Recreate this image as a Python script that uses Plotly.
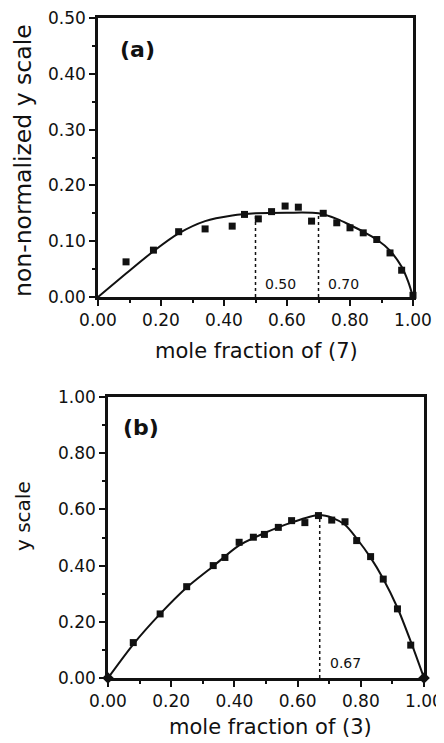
import plotly.graph_objects as go

# ---------------- data: panel (a) ----------------
a_x = [0.089, 0.176, 0.256, 0.340, 0.426, 0.465, 0.509, 0.551, 0.594, 0.636,
       0.678, 0.715, 0.758, 0.800, 0.842, 0.885, 0.927, 0.964, 1.000]
a_y = [0.063, 0.084, 0.117, 0.122, 0.127, 0.148, 0.140, 0.153, 0.163, 0.161,
       0.136, 0.150, 0.133, 0.124, 0.115, 0.103, 0.079, 0.048, 0.003]
a_fit_x = [0.0, 0.089, 0.176, 0.256, 0.340, 0.426, 0.50, 0.60, 0.70, 0.758,
           0.800, 0.842, 0.885, 0.927, 0.964, 0.985, 1.0]
a_fit_y = [0.0, 0.042, 0.082, 0.114, 0.136, 0.146, 0.150, 0.151, 0.150, 0.140,
           0.129, 0.117, 0.103, 0.083, 0.054, 0.027, 0.0]
a_marks = [0.50, 0.70]
a_marks_h = [0.150, 0.150]
a_mark_labels = ["0.50", "0.70"]

# ---------------- data: panel (b) ----------------
b_x = [0.080, 0.165, 0.249, 0.333, 0.370, 0.415, 0.460, 0.495, 0.539, 0.581,
       0.623, 0.666, 0.708, 0.750, 0.787, 0.831, 0.871, 0.916, 0.958]
b_y = [0.126, 0.228, 0.325, 0.400, 0.429, 0.483, 0.501, 0.511, 0.536, 0.560,
       0.553, 0.578, 0.562, 0.556, 0.489, 0.432, 0.352, 0.246, 0.117]
b_end_x = [0.0, 1.0]
b_end_y = [0.0, 0.0]
b_fit_x = [0.0, 0.080, 0.165, 0.249, 0.333, 0.415, 0.50, 0.58, 0.667, 0.71,
           0.75, 0.79, 0.83, 0.87, 0.916, 0.958, 1.0]
b_fit_y = [0.0, 0.120, 0.228, 0.322, 0.398, 0.472, 0.518, 0.553, 0.580, 0.570,
           0.545, 0.492, 0.430, 0.355, 0.250, 0.130, 0.0]
b_marks = [0.67]
b_marks_h = [0.580]
b_mark_labels = ["0.67"]

# page body adds an 8px margin; figure is sized to fill the rest of the window
OFF = 8
W, H = 444 - OFF, 743 - OFF
FONT = "DejaVu Sans"
BLACK = "#111111"


def px(x):
    return (x - OFF) / W


def py(y):
    return 1 - (y - OFF) / H


fig = go.Figure()

# panel (a)
fig.add_trace(go.Scatter(x=a_fit_x, y=a_fit_y, mode="lines", line=dict(color=BLACK, width=2, shape="spline", smoothing=0.8),
                         xaxis="x", yaxis="y", hoverinfo="skip", cliponaxis=False))
fig.add_trace(go.Scatter(x=a_x, y=a_y, mode="markers", marker=dict(symbol="square", size=7, color=BLACK),
                         xaxis="x", yaxis="y", cliponaxis=False))
for mx, mh in zip(a_marks, a_marks_h):
    fig.add_trace(go.Scatter(x=[mx, mx], y=[0, mh], mode="lines", line=dict(color=BLACK, width=1.5, dash="dot"),
                             xaxis="x", yaxis="y", hoverinfo="skip"))

# panel (b)
fig.add_trace(go.Scatter(x=b_fit_x, y=b_fit_y, mode="lines", line=dict(color=BLACK, width=2, shape="spline", smoothing=0.8),
                         xaxis="x2", yaxis="y2", hoverinfo="skip", cliponaxis=False))
fig.add_trace(go.Scatter(x=b_x, y=b_y, mode="markers", marker=dict(symbol="square", size=7, color=BLACK),
                         xaxis="x2", yaxis="y2", cliponaxis=False))
fig.add_trace(go.Scatter(x=b_end_x, y=b_end_y, mode="markers", marker=dict(symbol="diamond", size=9, color=BLACK),
                         xaxis="x2", yaxis="y2", cliponaxis=False))
for mx, mh in zip(b_marks, b_marks_h):
    fig.add_trace(go.Scatter(x=[mx, mx], y=[0, mh], mode="lines", line=dict(color=BLACK, width=1.5, dash="dot"),
                             xaxis="x2", yaxis="y2", hoverinfo="skip"))


def axis_style(rng, dtick, minor_dtick, domain, anchor):
    return dict(range=rng, domain=domain, anchor=anchor, dtick=dtick, tick0=0, tickformat=".2f",
                automargin=False, ticklabeloverflow="allow",
                showgrid=False, zeroline=False, showline=True, linewidth=2.5, linecolor=BLACK, mirror=True,
                ticks="outside", ticklen=6, tickwidth=2, tickcolor=BLACK,
                tickfont=dict(family=FONT, size=17, color=BLACK),
                minor=dict(dtick=minor_dtick, tick0=0, ticks="outside", ticklen=3, tickwidth=2, tickcolor=BLACK, showgrid=False),
                fixedrange=True)


xa_dom = [px(98), px(413)]
ya_dom = [py(297), py(18)]
xb_dom = [px(108), px(424)]
yb_dom = [py(678), py(397)]

annotations = [
    dict(text="<b>(a)</b>", x=0.063, y=0.444, xref="x", yref="y", xanchor="left", yanchor="middle",
         showarrow=False, font=dict(family=FONT, size=22, color=BLACK)),
    dict(text="<b>(b)</b>", x=0.04, y=0.89, xref="x2", yref="y2", xanchor="left", yanchor="middle",
         showarrow=False, font=dict(family=FONT, size=22, color=BLACK)),
    dict(text="mole fraction of (7)", x=px(257), y=py(351), xref="paper", yref="paper",
         xanchor="center", yanchor="middle", showarrow=False, font=dict(family=FONT, size=21, color=BLACK)),
    dict(text="mole fraction of (3)", x=px(270), y=py(727), xref="paper", yref="paper",
         xanchor="center", yanchor="middle", showarrow=False, font=dict(family=FONT, size=21, color=BLACK)),
    dict(text="non-normalized y scale", x=px(23), y=py(161), xref="paper", yref="paper", textangle=-90,
         xanchor="center", yanchor="middle", showarrow=False, font=dict(family=FONT, size=23.5, color=BLACK)),
    dict(text="y scale", x=px(23), y=py(516), xref="paper", yref="paper", textangle=-90,
         xanchor="center", yanchor="middle", showarrow=False, font=dict(family=FONT, size=20, color=BLACK)),
]
for mx, lab in zip(a_marks, a_mark_labels):
    annotations.append(dict(text=lab, x=mx + 0.025, y=0.023, xref="x", yref="y", xanchor="left", yanchor="middle",
                            showarrow=False, font=dict(family=FONT, size=14, color=BLACK)))
for mx, lab in zip(b_marks, b_mark_labels):
    annotations.append(dict(text=lab, x=mx + 0.025, y=0.052, xref="x2", yref="y2", xanchor="left", yanchor="middle",
                            showarrow=False, font=dict(family=FONT, size=14, color=BLACK)))

fig.update_layout(
    width=W, height=H, margin=dict(l=0, r=0, t=0, b=0, autoexpand=False),
    paper_bgcolor="white", plot_bgcolor="white", showlegend=False,
    xaxis=axis_style([0, 1], 0.2, 0.1, xa_dom, "y"),
    yaxis=axis_style([0, 0.5], 0.1, 0.05, ya_dom, "x"),
    xaxis2=axis_style([0, 1], 0.2, 0.1, xb_dom, "y2"),
    yaxis2=axis_style([0, 1], 0.2, 0.1, yb_dom, "x2"),
    annotations=annotations,
)

fig.write_html("out.html")
